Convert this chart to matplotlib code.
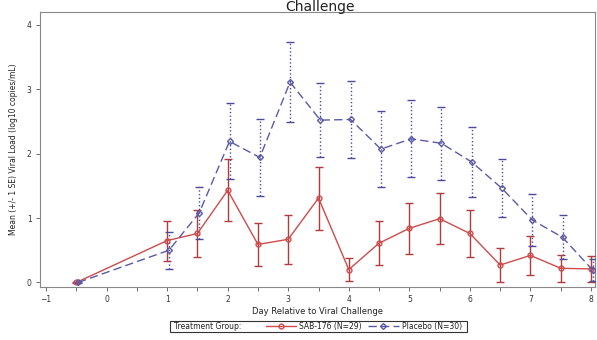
import matplotlib
matplotlib.use("Agg")
import matplotlib.pyplot as plt
from matplotlib.patches import Rectangle
from matplotlib.lines import Line2D

# mean viral load (log10 copies/mL) +/- 1 SE
days = [-0.5, 1, 1.5, 2, 2.5, 3, 3.5, 4, 4.5, 5, 5.5, 6, 6.5, 7, 7.5, 8]

sab_mean = [0.0, 0.65, 0.76, 1.43, 0.59, 0.67, 1.31, 0.20, 0.61, 0.84, 0.99, 0.76, 0.27, 0.42, 0.22, 0.21]
sab_se = [0.01, 0.31, 0.37, 0.48, 0.33, 0.38, 0.49, 0.18, 0.34, 0.40, 0.40, 0.37, 0.26, 0.30, 0.21, 0.20]

pla_mean = [0.0, 0.50, 1.08, 2.19, 1.94, 3.11, 2.52, 2.53, 2.07, 2.23, 2.16, 1.87, 1.46, 0.97, 0.70, 0.19]
pla_se = [0.01, 0.29, 0.40, 0.59, 0.60, 0.62, 0.58, 0.60, 0.59, 0.60, 0.57, 0.54, 0.45, 0.40, 0.34, 0.17]

xticks = [-1, 0, 1, 2, 3, 4, 5, 6, 7, 8]
yticks = [0, 1, 2, 3, 4]

red = "#cf4b4b"
red_bar = "#b23a3a"
blue = "#5a5aa8"
blue_bar = "#4b4b9c"

fig = plt.figure(figsize=(5.97, 3.40), dpi=100)
ax = fig.add_axes([0.067, 0.156, 0.930, 0.809])

red_style = dict(color=red, lw=1.0, marker="o", ms=3.5, mfc="none", mec=red, mew=1.0)
blue_style = dict(color=blue, lw=1.0, ls=(0, (6, 3)), marker="D", ms=3, mfc="none",
                  mec=blue, mew=1.0)

# red group: solid line, circles, solid error bars
ax.errorbar(days, sab_mean, yerr=sab_se, ecolor=red_bar, elinewidth=1.0, capsize=3,
            capthick=1.0, zorder=3, **red_style)

# blue group: dashed line, diamonds, dotted error bars, nudged right a bit
pla_x = [d + 0.03 for d in days]
eb = ax.errorbar(pla_x, pla_mean, yerr=pla_se, ecolor=blue_bar, elinewidth=1.0,
                 capsize=3, capthick=1.0, zorder=3, **blue_style)
for c in eb[2]:
    c.set_linestyle(":")

ax.set_xlim(-1.1, 8.07)
ax.set_ylim(-0.07, 4.2)
ax.set_xticks(xticks)
ax.set_xticks([x + 0.5 for x in xticks[:-1]], minor=True)
ax.set_yticks(yticks)
ax.tick_params(axis="both", which="major", labelsize=5.5, length=3, width=0.6,
               color="#555555", labelcolor="#333333", pad=3)
ax.tick_params(axis="x", which="minor", length=3, width=0.6, color="#555555")
for s in ax.spines.values():
    s.set_color("#888888")
    s.set_linewidth(0.8)

ax.set_xlabel("Day Relative to Viral Challenge", fontsize=6, color="#222222", labelpad=2)
ax.set_ylabel("Mean (+/- 1 SE) Viral Load (log10 copies/mL)", fontsize=5.5,
              color="#222222", labelpad=6)

fig.text(0.536, 0.999, "Challenge", fontsize=10, ha="center", va="top", color="#222222")

# legend: framed strip at the bottom, "Treatment Group:" then the two entries
fig.patches.append(Rectangle((0.285, 0.024), 0.497, 0.033, transform=fig.transFigure,
                             fill=False, ec="#333333", lw=0.8))
fig.text(0.292, 0.0405, "Treatment Group:", fontsize=5.5, ha="left", va="center",
         color="#222222")
handles = [Line2D([], [], **red_style), Line2D([], [], **blue_style)]
fig.legend(handles, ["SAB-176 (N=29)", "Placebo (N=30)"], loc="center left",
           bbox_to_anchor=(0.445, 0.0405), ncol=2, fontsize=5.5, frameon=False,
           handlelength=4.0, borderpad=0, borderaxespad=0, columnspacing=0.8,
           handletextpad=0.4, labelcolor="#222222")

fig.savefig("out.png", dpi=100)
